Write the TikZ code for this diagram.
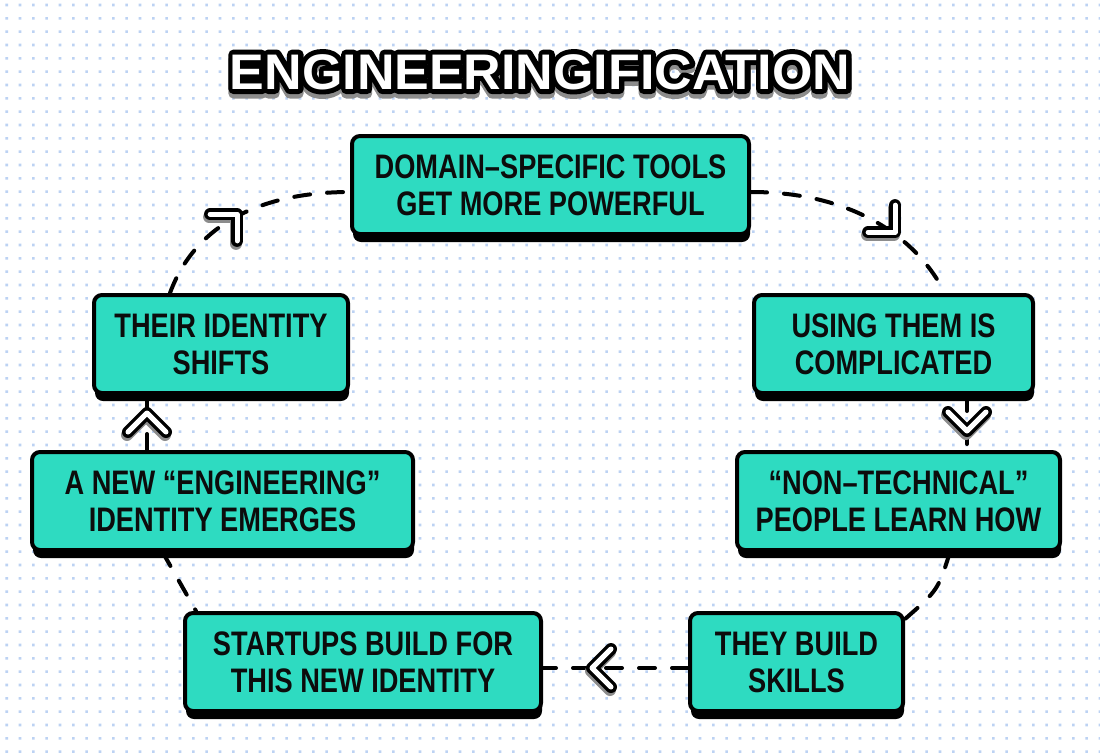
\documentclass[tikz,border=0pt]{standalone}
\usepackage{fontspec}
\usetikzlibrary{calc,shadows}
\newfontfamily\boxfont{Liberation Sans}[FakeStretch=0.80]
\newfontfamily\titlefam{Liberation Sans}[FakeStretch=1.04]
\definecolor{tealbox}{RGB}{46,219,193}
\definecolor{dotblue}{RGB}{188,210,243}
\definecolor{inkblack}{RGB}{12,12,12}
\definecolor{shadowgray}{RGB}{140,140,140}
\newcommand\TitleWord{ENGINEERINGIFICATION}
\newcommand\strokedword[2]{{\color{#1}\special{pdf:literal direct 2 Tr #2 w 1 j}\TitleWord\special{pdf:literal direct 0 Tr}}}
\newcommand\chevat[3]{%
  \begin{scope}[shift={(#1,#2)}]
    \begin{scope}[xshift=-1pt,yshift=-3pt,rotate=#3]
      \draw[chevsh] (-19,-19) -- (0,0) -- (-19,19);
    \end{scope}
    \begin{scope}[rotate=#3]
      \draw[chevout] (-19,-19) -- (0,0) -- (-19,19);
      \draw[chevin] (-19,-19) -- (0,0) -- (-19,19);
    \end{scope}
  \end{scope}}
\tikzset{
  box/.style={draw=black, line width=4pt, fill=tealbox, rounded corners=8pt,
    inner sep=0pt, align=center, text=inkblack, minimum height=98,
    font=\boxfont\bfseries\fontsize{34}{37}\selectfont,
    drop shadow={shadow xshift=1pt, shadow yshift=-8pt, opacity=1, fill=black}},
  conn/.style={draw=black, line width=4pt, dash pattern=on 16pt off 17pt, line cap=round},
  chevsh/.style={draw=shadowgray, line width=12pt, line cap=round, line join=round},
  chevout/.style={draw=black, line width=12pt, line cap=round, line join=round},
  chevin/.style={draw=white, line width=5pt, line cap=round, line join=round},
}
\begin{document}
\begin{tikzpicture}[x=1pt,y=-1pt]
\useasboundingbox (0,0) rectangle (1100,755);
\fill[white] (0,0) rectangle (1100,755);
\foreach \j in {0,...,56}{%
  \pgfmathsetmacro\yy{5+13.333*\j}%
  \fill[dotblue] \foreach \i in {0,...,82}{(5.4+13.333*\i,\yy-1.3) rectangle ++(2.6,2.6)};}

% title
\node[anchor=base, inner sep=0pt] (title) at (540,89) {\titlefam\bfseries\fontsize{50}{50}\selectfont%
  \rlap{\raisebox{-4.5pt}{\strokedword{shadowgray}{10}}}%
  \rlap{\strokedword{black}{10}}%
  \textcolor{white}{\TitleWord}};

% boxes
\node[box, minimum width=397] (b1) at (550.5,185) {DOMAIN–SPECIFIC TOOLS\\GET MORE POWERFUL};
\node[box, minimum width=279] (b2) at (893.5,344) {USING THEM IS\\COMPLICATED};
\node[box, minimum width=323] (b3) at (898.5,501) {“NON–TECHNICAL”\\PEOPLE LEARN HOW};
\node[box, minimum width=213] (b4) at (796.5,662) {THEY BUILD\\SKILLS};
\node[box, minimum width=356] (b5) at (363,662) {STARTUPS BUILD FOR\\THIS NEW IDENTITY};
\node[box, minimum width=381] (b6) at (222.5,501) {A NEW “ENGINEERING”\\IDENTITY EMERGES};
\node[box, minimum width=254] (b7) at (221,344) {THEIR IDENTITY\\SHIFTS};

% connectors
\draw[conn] ($(b1.east)+(0,7)$) .. controls (850,192) and (915,235) .. ($(b2.north)+(51.5,0)$);
\draw[conn] ($(b2.south)+(73.5,0)$) -- ($(b3.north)+(68.5,0)$);
\draw[conn] ($(b3.south)+(51.5,0)$) .. controls (938,590) .. ($(b4.north east)+(0,8)$);
\draw[conn] ($(b4.west)+(0,6)$) -- ($(b5.east)+(0,6)$);
\draw[conn] ($(b6.south)+(-60,0)$) -- ($(b5.north west)+(13,0)$);
\draw[conn] ($(b6.north)+(-75.5,0)$) -- ($(b7.south)+(-74,0)$);
\draw[conn] ($(b7.north)+(-51,0)$) .. controls (195,225) and (260,192) .. ($(b1.west)+(0,7)$);

% arrowheads
\chevat{895}{232}{-45}
\chevat{967}{431}{-90}
\chevat{592}{668}{180}
\chevat{147}{413}{90}
\chevat{237}{214}{45}
\end{tikzpicture}
\end{document}
